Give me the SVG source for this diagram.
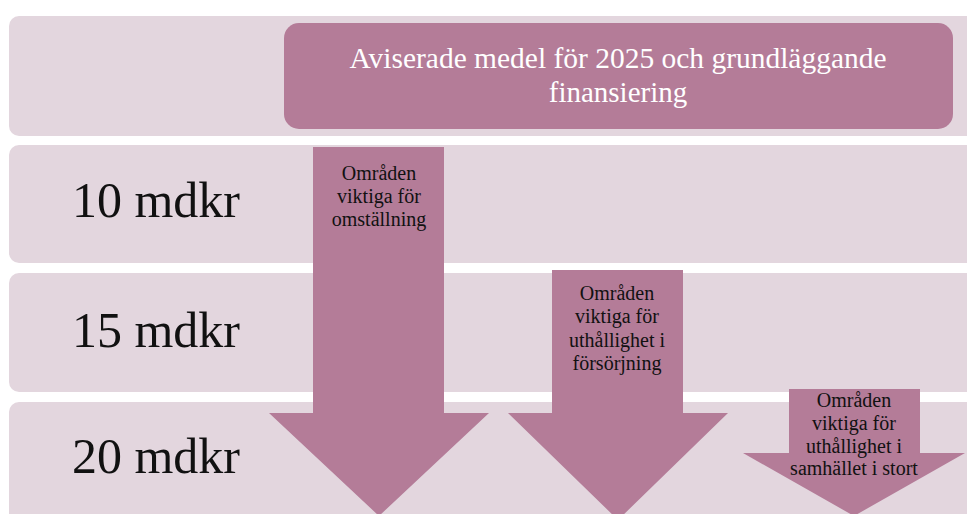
<svg xmlns="http://www.w3.org/2000/svg" width="967" height="514" viewBox="0 0 967 514">
<style>
.band{fill:#e3d6de}
.dark{fill:#b47c98}
.lbl{font-family:"Liberation Serif",serif;font-size:50px;fill:#111;text-anchor:middle}
.atxt{font-family:"Liberation Serif",serif;font-size:20px;fill:#111;text-anchor:middle}
.ttxt{font-family:"Liberation Serif",serif;font-size:29px;fill:#fff;text-anchor:middle}
</style>
<rect width="967" height="514" fill="#ffffff"/>
<g id="row-top">
<rect class="band" x="9" y="16" width="975" height="120" rx="10"/>
<rect class="dark" x="284" y="23" width="669" height="106" rx="15"/>
<text class="ttxt" x="618" y="68" textLength="537" lengthAdjust="spacingAndGlyphs">Aviserade medel för 2025 och grundläggande</text>
<text class="ttxt" x="618" y="102">finansiering</text>
</g>
<g id="row-10">
<rect class="band" x="9" y="145" width="975" height="118" rx="10"/>
<text class="lbl" x="156" y="217">10 mdkr</text>
</g>
<g id="row-15">
<rect class="band" x="9" y="273" width="975" height="119" rx="10"/>
<text class="lbl" x="156" y="347">15 mdkr</text>
</g>
<g id="row-20">
<rect class="band" x="9" y="402" width="975" height="130" rx="10"/>
<text class="lbl" x="156" y="473">20 mdkr</text>
</g>
<g id="arrow-omstallning">
<polygon class="dark" points="313,147 444,147 444,413 489,413 379,516 269,413 313,413"/>
<text class="atxt" x="379" y="180">Områden</text>
<text class="atxt" x="379" y="203">viktiga för</text>
<text class="atxt" x="379" y="226">omställning</text>
</g>
<g id="arrow-forsorjning">
<polygon class="dark" points="552,270 683,270 683,413 728,413 618,520 508,413 552,413"/>
<text class="atxt" x="617" y="300">Områden</text>
<text class="atxt" x="617" y="323">viktiga för</text>
<text class="atxt" x="617" y="347">uthållighet i</text>
<text class="atxt" x="617" y="370">försörjning</text>
</g>
<g id="arrow-samhallet">
<polygon class="dark" points="789,389 920,389 920,453 965,453 854,516 743,453 789,453"/>
<text class="atxt" x="854" y="407">Områden</text>
<text class="atxt" x="854" y="430">viktiga för</text>
<text class="atxt" x="854" y="453">uthållighet i</text>
<text class="atxt" x="854" y="475">samhället i stort</text>
</g>
</svg>
